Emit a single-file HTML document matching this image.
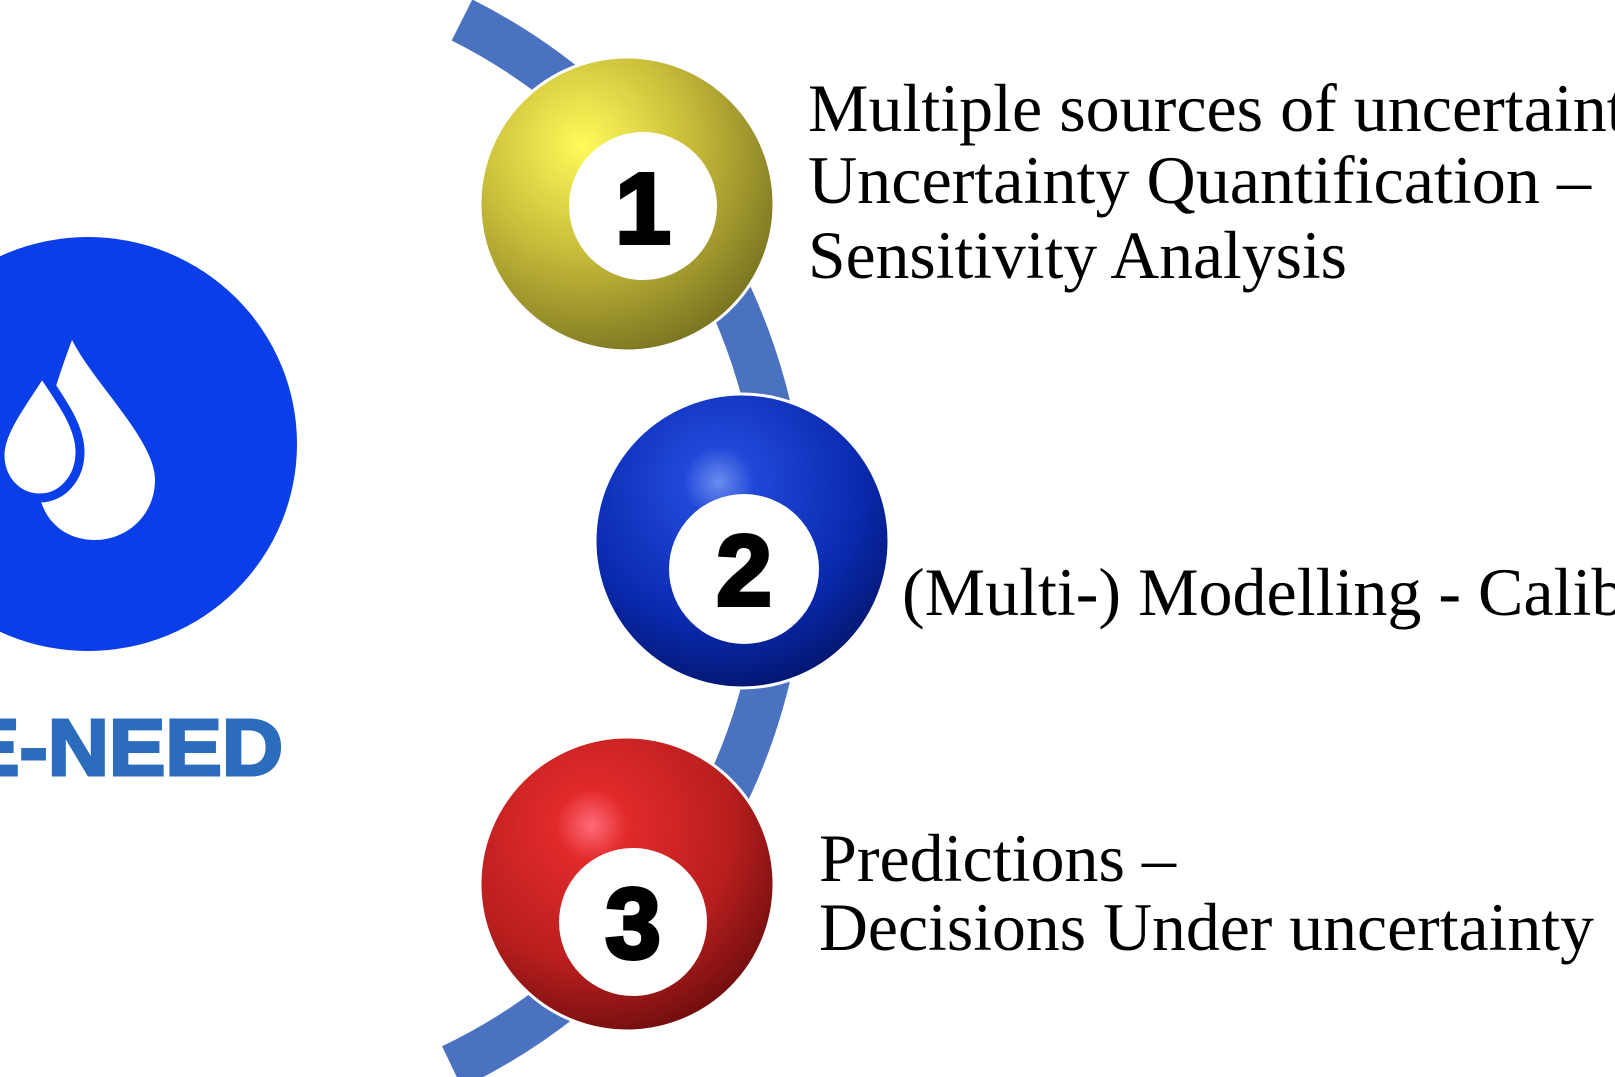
<!DOCTYPE html>
<html><head><meta charset="utf-8"><style>
html,body{margin:0;padding:0;background:#fff;}
svg{display:block;}
</style></head><body>
<svg width="1615" height="1077" viewBox="0 0 1615 1077" xmlns="http://www.w3.org/2000/svg">
<defs>
<radialGradient id="gy" cx="0.35" cy="0.3" r="0.8">
<stop offset="0" stop-color="#fffb5a"/><stop offset="0.45" stop-color="#c9bd3a"/><stop offset="1" stop-color="#6f6a1e"/>
</radialGradient>
<radialGradient id="gb" cx="0.42" cy="0.3" r="0.8">
<stop offset="0" stop-color="#6a8cf0"/><stop offset="0.15" stop-color="#2048d8"/><stop offset="0.6" stop-color="#0a2ab0"/><stop offset="1" stop-color="#00105a"/>
</radialGradient>
<radialGradient id="gr" cx="0.38" cy="0.3" r="0.8">
<stop offset="0" stop-color="#ff6a7a"/><stop offset="0.15" stop-color="#e22a2a"/><stop offset="0.6" stop-color="#b81e1e"/><stop offset="1" stop-color="#5e0a0a"/>
</radialGradient>
</defs>
<!-- logo -->
<ellipse cx="88" cy="444" rx="209" ry="207" fill="#0a3ee8"/>
<path d="M72 340 C95 385 155 440 155 480 C155 515 127 540 95 540 C63 540 38 518 38 480 C38 440 55 385 72 340 Z" fill="#fff"/>
<path d="M42 372 C60 400 80 425 80 452 C80 478 62 498 40 498 C16 498 0 478 0 455 C0 430 25 400 42 372 Z" fill="#fff" stroke="#0a3ee8" stroke-width="9"/>
<text x="283" y="775" text-anchor="end" font-family="Liberation Sans, sans-serif" font-weight="bold" font-size="80" fill="#2b6cbc" stroke="#2b6cbc" stroke-width="3" textLength="320" lengthAdjust="spacingAndGlyphs">E-NEED</text>
<!-- arc -->
<path d="M462 20 A583 583 0 0 1 452 1067" fill="none" stroke="#4a72c0" stroke-width="46"/>
<!-- balls -->
<circle cx="627" cy="204" r="147" fill="url(#gy)" stroke="#fff" stroke-width="3"/>
<circle cx="643" cy="206" r="74" fill="#fff"/>
<text x="643" y="243" text-anchor="middle" font-family="Liberation Sans, sans-serif" font-weight="bold" font-size="100" fill="#000" stroke="#000" stroke-width="4">1</text>
<circle cx="742" cy="541" r="147" fill="url(#gb)" stroke="#fff" stroke-width="3"/>
<circle cx="744" cy="569" r="75" fill="#fff"/>
<text x="744" y="605" text-anchor="middle" font-family="Liberation Sans, sans-serif" font-weight="bold" font-size="100" fill="#000" stroke="#000" stroke-width="4">2</text>
<circle cx="627" cy="884" r="147" fill="url(#gr)" stroke="#fff" stroke-width="3"/>
<circle cx="633" cy="922" r="74" fill="#fff"/>
<text x="633" y="958" text-anchor="middle" font-family="Liberation Sans, sans-serif" font-weight="bold" font-size="100" fill="#000" stroke="#000" stroke-width="4">3</text>
<!-- text -->
<g font-family="Liberation Serif, serif" font-size="68" fill="#000">
<text x="808" y="131">Multiple sources of uncertainty –</text>
<text x="808" y="203" textLength="783" lengthAdjust="spacingAndGlyphs">Uncertainty Quantification –</text>
<text x="808" y="278" textLength="539" lengthAdjust="spacingAndGlyphs">Sensitivity Analysis</text>
<text x="902" y="615">(Multi-) Modelling - Calibration</text>
<text x="819" y="881">Predictions –</text>
<text x="819" y="950" textLength="775" lengthAdjust="spacingAndGlyphs">Decisions Under uncertainty</text>
</g>
</svg>
</body></html>
